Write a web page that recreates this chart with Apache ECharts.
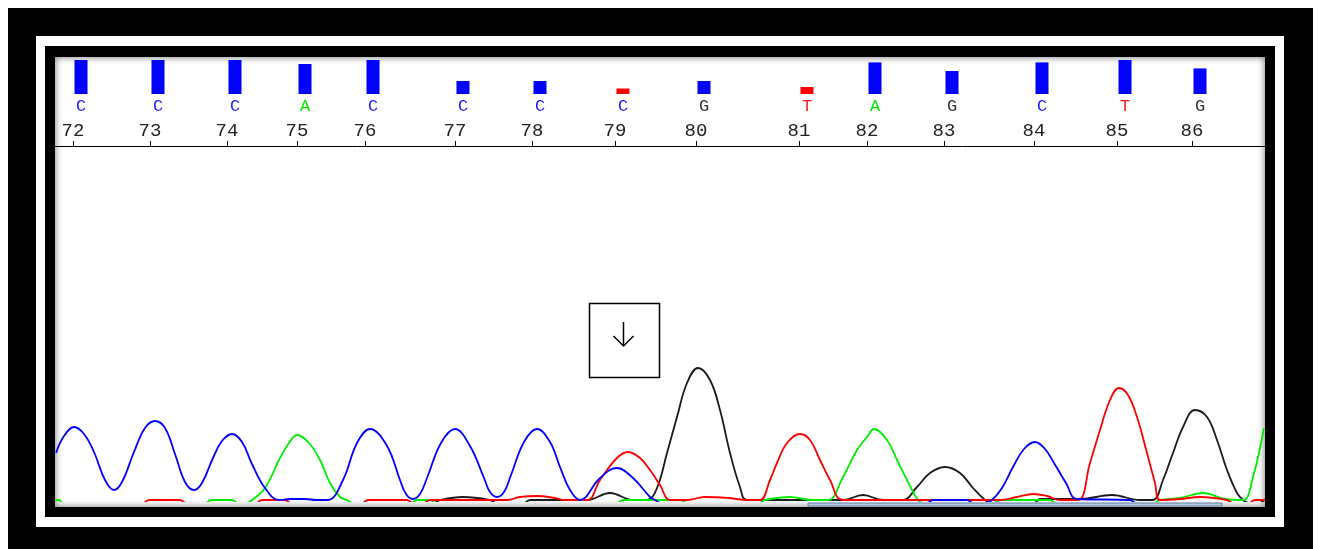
<!DOCTYPE html>
<html>
<head>
<meta charset="utf-8">
<script src="https://cdn.jsdelivr.net/npm/echarts@6/dist/echarts.min.js"></script>
<style>
  body { margin: 0; background: #fff; }
  .box { position: absolute; }
  #f1 { left: 8px; top: 8px; width: 1305px; height: 541px; background: #000; }
  #f2 { left: 36px; top: 36px; width: 1248px; height: 491px; background: #fff; }
  #f3 { left: 45px; top: 46px; width: 1230px; height: 471px; background: #000; }
  #plot { left: 55px; top: 57px; width: 1210px; height: 450px; background: #fff;
          box-shadow: inset 0 0 6px 1px rgba(0,0,0,0.45); }
  #chart { position: absolute; left: 0; top: 0; width: 1319px; height: 549px; }
</style>
</head>
<body>
<div class="box" id="f1"></div>
<div class="box" id="f2"></div>
<div class="box" id="f3"></div>
<div class="box" id="plot"></div>
<div id="chart"></div>
<script>
// base numbers and where they sit on the trace (scan units)
const baseNums = [72, 73, 74, 75, 76, 77, 78, 79, 80, 81, 82, 83, 84, 85, 86];
const tickPos = [18, 95, 172, 242, 310, 400, 477, 560, 641, 744, 812, 889, 979, 1062, 1137];
const calls = ['C', 'C', 'C', 'A', 'C', 'C', 'C', 'C', 'G', 'T', 'A', 'G', 'C', 'T', 'G'];
const quality = [34, 34, 34, 30, 34, 13, 13, 5.5, 13, 7, 31.6, 23, 31.6, 34, 25.6];

// trace points [scan, signal]; negative = sunk below the visible bottom edge
const traceC = [[1,48],[9,65],[19,74],[29,67],[39,49],[50,21],[59,11],[67,19],[79,49],[90,73],[100,80],[110,73],
  [120,47],[130,19],[139,11],[147,18],[158,43],[167,60],[177,67],[187,59],[197,37],[210,13],[224,1],[235,2],
  [250,2],[261,1],[273,1],[288,21],[302,58],[315,72],[332,55],[345,21],[351,7],[358,2],[365,7],[372,23],[386,58],[400,72],
  [415,55],[429,23],[435,9],[442,4],[449,9],[456,26],[469,59],[482,72],[495,59],[505,34],[515,11],[525,1],[545,23],[562,33],
  [578,23],[595,4],[600,1],[606,-2],[700,-2],[800,-2],[872,-2],[878,1],[912,1],[918,-2],[930,-2],[937,1],
  [947,13],[958,34],[969,52],[980,59],[990,52],[999,38],[1011,18],[1022,2],[1075,1],[1081,-2],[1210,-2]];
const traceA = [[0,1],[4,1],[8,-2],[150,-2],[157,1],[177,1],[183,-2],[191,-2],[197,1],[210,13],[224,41],[234,58],
  [242,66],[254,58],[265,41],[275,18],[285,4],[292,1],[298,-2],[356,-2],[362,1],[375,1],[381,-2],[562,-2],[568,1],
  [625,1],[632,-2],[704,-2],[710,1],[735,4],[757,1],[773,1],[788,24],[802,51],[812,64],[819,72],[832,61],[842,41],
  [852,21],[863,1],[869,-2],[939,-2],[945,1],[995,1],[1001,-2],[1099,-2],[1105,1],[1125,3],[1148,8],[1170,2],
  [1188,1],[1198,24],[1209,73]];
const traceT = [[0,-2],[88,-2],[94,1],[125,1],[131,-2],[201,-2],[207,1],[230,1],[236,-2],[307,-2],[313,1],[352,1],
  [358,-2],[369,-2],[375,1],[402,1],[452,1],[465,4],[482,5],[500,3],[510,1],[532,1],[545,21],[562,43],[573,49],
  [585,43],[595,31],[605,16],[615,1],[632,1],[650,4],[673,3],[692,1],[705,1],[715,21],[722,38],[732,58],[745,67],
  [755,61],[765,41],[775,21],[788,1],[850,1],[912,1],[945,1],[962,4],[978,7],[992,5],[1005,1],[1023,1],[1035,38],
  [1045,71],[1055,101],[1064,113],[1073,106],[1082,84],[1092,48],[1100,18],[1105,1],[1125,2],[1145,4],[1172,1],
  [1178,-2],[1194,-2],[1200,1],[1210,1]];
const traceG = [[0,-2],[379,-2],[385,1],[408,4],[435,1],[441,-2],[469,-2],[475,1],[502,1],[532,1],[555,8],[578,1],
  [592,1],[602,13],[612,48],[622,84],[632,118],[643,133],[655,121],[665,91],[675,48],[685,14],[692,1],[750,1],
  [788,1],[808,6],[828,1],[848,1],[862,14],[875,28],[890,34],[905,28],[918,13],[930,1],[936,-2],[979,-2],[985,2],
  [1025,2],[1057,6],[1085,1],[1098,1],[1108,21],[1118,48],[1128,74],[1140,91],[1152,84],[1162,61],[1172,31],
  [1182,8],[1188,1],[1194,-2],[1204,-2],[1210,2]];

const baseColor = { A: '#00e600', C: '#1a1aff', G: '#333333', T: '#ff1a1a' };
const mono = 'Liberation Mono';

const rich = {};
Object.keys(baseColor).forEach(function (k) {
  rich[k] = { color: baseColor[k], fontFamily: mono, fontSize: 17 };
});

function trace(name, data, color) {
  return {
    name: name,
    type: 'line',
    xAxisIndex: 2,
    yAxisIndex: 2,
    data: data,
    showSymbol: false,
    smooth: 0.4,
    clip: true,
    lineStyle: { color: color, width: 1.8 },
    itemStyle: { color: color }
  };
}

const chart = echarts.init(document.getElementById('chart'));
chart.setOption({
  animation: false,
  grid: [
    { left: 55, width: 1210, top: 57, height: 89 },
    { left: 55, width: 1210, top: 54, height: 40 },
    { left: 55, width: 1210, top: 146, height: 355 }
  ],
  xAxis: [
    {
      gridIndex: 0, type: 'value', min: 0, max: 1210, position: 'bottom',
      axisLine: { lineStyle: { color: '#000', width: 1 } },
      axisTick: { inside: true, length: 5, customValues: tickPos, lineStyle: { color: '#000' } },
      axisLabel: {
        inside: true, margin: 6, customValues: tickPos,
        fontFamily: mono, fontSize: 19, color: '#222',
        formatter: function (v) { return String(baseNums[tickPos.indexOf(v)]); }
      },
      splitLine: { show: false }
    },
    { gridIndex: 1, type: 'value', min: -8, max: 1202, show: false },
    { gridIndex: 2, type: 'value', min: 0, max: 1210, show: false }
  ],
  yAxis: [
    { gridIndex: 0, type: 'value', min: 0, max: 1, show: false },
    { gridIndex: 1, type: 'value', min: 0, max: 40, show: false },
    { gridIndex: 2, type: 'value', min: 0, max: 355, show: false }
  ],
  series: [
    {
      type: 'bar',
      xAxisIndex: 1,
      yAxisIndex: 1,
      barWidth: 13,
      data: tickPos.map(function (p, i) { return [p, quality[i]]; }),
      itemStyle: {
        color: function (p) { return quality[p.dataIndex] < 10 ? '#ff0000' : '#0000ff'; }
      },
      label: {
        show: true, position: 'bottom', distance: 4,
        formatter: function (p) { const c = calls[p.dataIndex]; return '{' + c + '|' + c + '}'; },
        rich: rich
      }
    },
    trace('G', traceG, '#1a1a1a'),
    trace('A', traceA, '#00ee00'),
    trace('T', traceT, '#ff0000'),
    trace('C', traceC, '#0000ff')
  ],
  graphic: [
    {
      type: 'rect', z: 100,
      shape: { x: 808, y: 503, width: 414, height: 3 },
      style: { fill: '#b8c8da', stroke: '#5f82a8', lineWidth: 1 }
    },
    {
      type: 'rect', z: 100,
      shape: { x: 589.5, y: 303.5, width: 70, height: 74 },
      style: { fill: '#fff', stroke: '#000', lineWidth: 1.5 }
    },
    {
      type: 'line', z: 101,
      shape: { x1: 623.5, y1: 322, x2: 623.5, y2: 346 },
      style: { stroke: '#000', lineWidth: 1.5 }
    },
    {
      type: 'polyline', z: 101,
      shape: { points: [[613.5, 336], [623.5, 346], [633.5, 336]] },
      style: { stroke: '#000', lineWidth: 1.5, fill: null }
    }
  ]
});
</script>
</body>
</html>
